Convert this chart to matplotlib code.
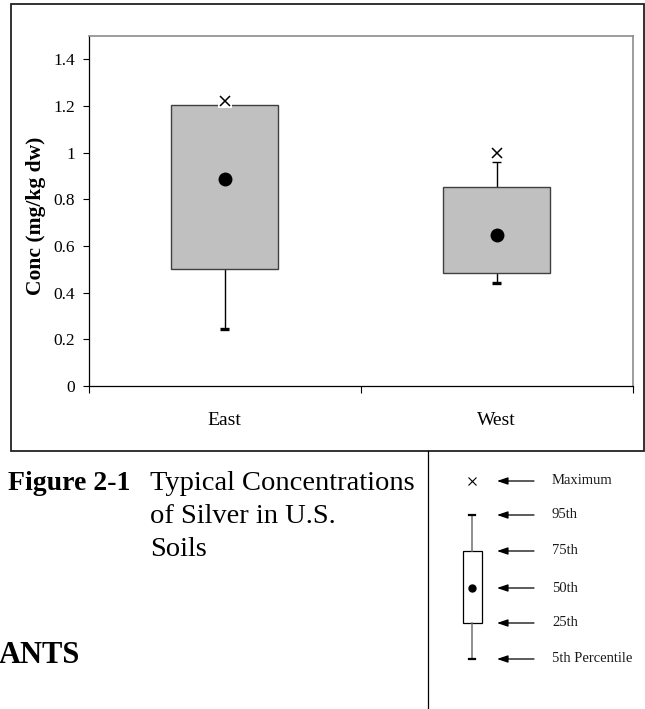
import numpy as np
import matplotlib
matplotlib.use("Agg")
import matplotlib.pyplot as plt
from matplotlib.patches import Rectangle

plt.rcParams['font.family'] = ['Liberation Serif', 'DejaVu Serif']

# data (mg/kg dw)
regions = ["East", "West"]
p5 = [0.243, 0.441]
q25 = [0.503, 0.485]
median = [0.888, 0.647]
q75 = [1.205, 0.851]
p95 = [1.205, 0.961]
maximum = [1.221, 1.0]

y_ticks = [0, 0.2, 0.4, 0.6, 0.8, 1.0, 1.2, 1.4]
y_tick_labels = ["0", "0.2", "0.4", "0.6", "0.8", "1", "1.2", "1.4"]

legend_labels = ["Maximum", "95th", "75th", "50th", "25th", "5th Percentile"]

W, H = 645, 709
fig = plt.figure(figsize=(W / 100, H / 100), dpi=100, facecolor='white')

# main chart axes, placed in pixel terms
left, right, top, bottom = 88.5, 632.5, 36, 386
ax = fig.add_axes([left / W, 1 - bottom / H, (right - left) / W, (bottom - top) / H])

x = np.arange(1, len(regions) + 1)
box_w = 0.393

ax.bar(x, np.array(q75) - np.array(q25), bottom=q25, width=box_w,
       color='#C0C0C0', edgecolor='#404040', linewidth=1.0, zorder=2)
# whiskers
ax.vlines(x, q75, p95, color='black', linewidth=1.0, zorder=1)
ax.vlines(x, p5, q25, color='black', linewidth=1.0, zorder=1)
ax.hlines(p95, x - 0.016, x + 0.016, color='black', linewidth=1.0, zorder=3)
ax.hlines(p5, x - 0.017, x + 0.017, color='black', linewidth=2.4, zorder=3)
# median dot and maximum cross (with white backing like the original)
ax.plot(x, median, 'o', color='black', markersize=9, zorder=4)
ax.plot(x, maximum, 's', color='white', markersize=9.5, markeredgewidth=0, zorder=4)
ax.plot(x, maximum, 'x', color='black', markersize=7.5, markeredgewidth=1.1, zorder=5)

ax.set_xlim(0.5, len(regions) + 0.5)
ax.set_ylim(0, 1.5)

ax.set_yticks(y_ticks)
ax.set_yticklabels(y_tick_labels)
ax.tick_params(axis='y', direction='out', length=4.3, width=0.8, pad=5.5,
               labelsize=12.5, colors='black')

# category boundaries get tick marks, labels sit at the centres
ax.set_xticks(np.arange(0.5, len(regions) + 1, 1.0))
ax.set_xticklabels([])
ax.set_xticks(x, minor=True)
ax.set_xticklabels(regions, minor=True)
ax.tick_params(axis='x', which='major', direction='out', length=5, width=0.8)
ax.tick_params(axis='x', which='minor', length=0, pad=18.5, labelsize=14)

ax.set_ylabel("Conc (mg/kg dw)", fontsize=15.5, fontweight='bold', va='center')
ax.yaxis.set_label_coords(-0.0965, 0.487)

for side in ['left', 'bottom']:
    ax.spines[side].set_color('black')
    ax.spines[side].set_linewidth(0.9)
for side in ['top', 'right']:
    ax.spines[side].set_color('#8c8c8c')
    ax.spines[side].set_linewidth(1.2)

# overlay in pixel coordinates for the frame, caption and key
ov = fig.add_axes([0, 0, 1, 1], zorder=5)
ov.set_xlim(0, W)
ov.set_ylim(H, 0)
ov.axis('off')

ov.add_patch(Rectangle((10.5, 3.5), 633, 447.5, fill=False,
                       edgecolor='#222222', linewidth=1.3))
ov.plot([428, 428], [451, H], color='black', linewidth=0.9)

# caption
ov.text(8, 490, "Figure 2-1", fontsize=20, fontweight='bold', ha='left', va='baseline')
ov.text(150, 490, "Typical Concentrations", fontsize=20.5, ha='left', va='baseline')
ov.text(150, 523, "of Silver in U.S.", fontsize=20.5, ha='left', va='baseline')
ov.text(150, 556, "Soils", fontsize=20.5, ha='left', va='baseline')
ov.text(80, 663, "ANTS", fontsize=22, fontweight='bold', ha='right', va='baseline')

# key
row_y = [481, 515, 551, 588, 623, 659]
kx = 472
ov.plot([kx], [row_y[0]], 'x', color='black', markersize=6, markeredgewidth=0.8)
ov.plot([kx, kx], [row_y[1], row_y[2]], color='#707070', linewidth=1.1)
ov.plot([kx, kx], [row_y[4], row_y[5]], color='#707070', linewidth=1.1)
ov.plot([kx - 3, kx + 3], [row_y[1], row_y[1]], color='black', linewidth=1.6)
ov.plot([kx - 3, kx + 3], [row_y[5], row_y[5]], color='black', linewidth=1.6)
ov.add_patch(Rectangle((kx - 9.5, row_y[2]), 19, row_y[4] - row_y[2], facecolor='white',
                       edgecolor='black', linewidth=0.9))
ov.plot([kx], [row_y[3]], 'o', color='black', markersize=5)

for yy, lab in zip(row_y, legend_labels):
    ov.annotate('', xy=(497, yy), xytext=(534, yy),
                arrowprops=dict(arrowstyle='-|>,head_length=0.65,head_width=0.22',
                                color='black', lw=0.9, mutation_scale=10,
                                shrinkA=0, shrinkB=0))
    ov.text(552, yy, lab, fontsize=10.5, color='#1a1a1a', ha='left', va='center')

fig.savefig('out.png', dpi=100, facecolor='white')
